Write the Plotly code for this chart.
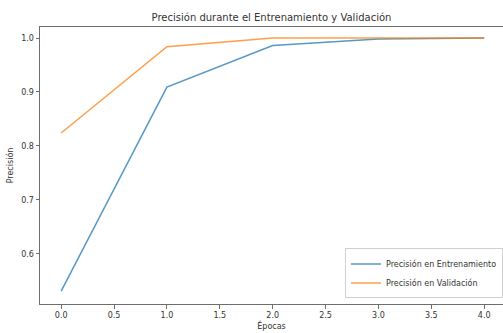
import plotly.graph_objects as go

# Training history: accuracy per epoch
epocas = [0, 1, 2, 3, 4]
precision_entrenamiento = [0.531, 0.909, 0.986, 0.998, 1.0]
precision_validacion = [0.824, 0.984, 1.0, 1.0, 1.0]

x_ticks = [0.0, 0.5, 1.0, 1.5, 2.0, 2.5, 3.0, 3.5, 4.0]
y_ticks = [0.6, 0.7, 0.8, 0.9, 1.0]

AZUL = "#1f77b4"
NARANJA = "#ff7f0e"
SPINE = "#6e6e6e"
TEXTO = "#333333"
FUENTE = "DejaVu Sans"

fig = go.Figure()
fig.add_trace(go.Scatter(
    x=epocas, y=precision_entrenamiento, mode="lines",
    name="Precisión en Entrenamiento",
    line=dict(color=AZUL, width=1.5, shape="linear"),
    opacity=0.75,
))
fig.add_trace(go.Scatter(
    x=epocas, y=precision_validacion, mode="lines",
    name="Precisión en Validación",
    line=dict(color=NARANJA, width=1.5, shape="linear"),
    opacity=0.75,
))

fig.update_layout(
    width=503, height=333,
    margin=dict(l=40, r=0, t=27, b=29),
    paper_bgcolor="white", plot_bgcolor="white",
    font=dict(family=FUENTE, size=8, color=TEXTO),
    title=dict(
        text="Precisión durante el Entrenamiento y Validación",
        x=0.5, xref="paper", y=1 - 17 / 333, yanchor="middle",
        font=dict(size=10, color=TEXTO, family=FUENTE),
    ),
    legend=dict(
        x=1.0, xanchor="right", y=0.02, yanchor="bottom",
        bgcolor="rgba(255,255,255,0.85)", bordercolor="#d0d0d0", borderwidth=1,
        font=dict(size=8, color=TEXTO, family=FUENTE),
        tracegroupgap=0, itemwidth=30,
    ),
    showlegend=True,
)

fig.update_xaxes(
    range=[-0.2, 4.178], tickvals=x_ticks,
    ticktext=[f"{v:.1f}" for v in x_ticks],
    showgrid=False, zeroline=False,
    showline=True, linecolor=SPINE, linewidth=1, mirror=True,
    ticks="outside", ticklen=3.5, tickcolor=SPINE, tickwidth=1,
    tickfont=dict(size=8, color=TEXTO),
    title=dict(text="Épocas", font=dict(size=8, color=TEXTO), standoff=4),
)
fig.update_yaxes(
    range=[0.507, 1.0204], tickvals=y_ticks,
    ticktext=[f"{v:.1f}" for v in y_ticks],
    showgrid=False, zeroline=False,
    showline=True, linecolor=SPINE, linewidth=1, mirror=False,
    ticks="outside", ticklen=3.5, tickcolor=SPINE, tickwidth=1,
    tickfont=dict(size=8, color=TEXTO),
    title=dict(text="Precisión", font=dict(size=8, color=TEXTO), standoff=6),
)

fig.write_html("out.html")
